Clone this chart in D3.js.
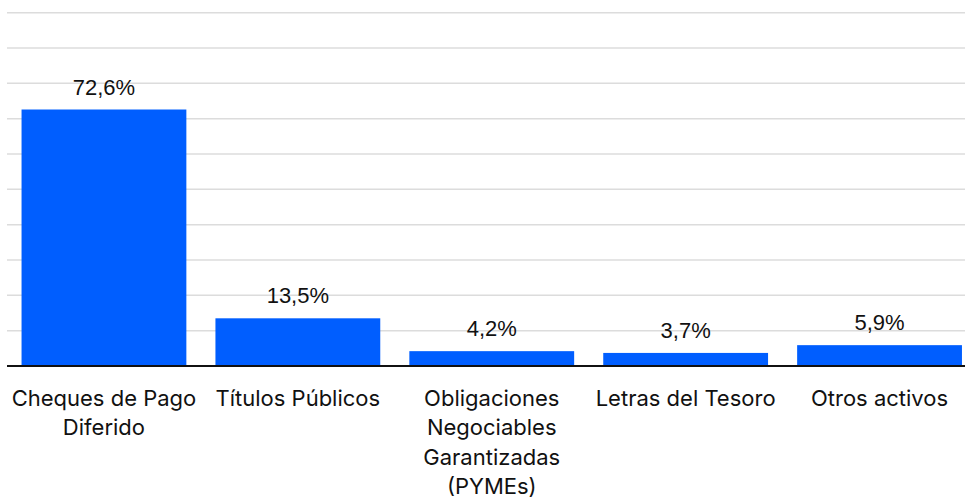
<!DOCTYPE html>
<html>
<head>
<meta charset="utf-8">
<script src="https://cdn.jsdelivr.net/npm/d3@7"></script>
<style>
  html, body { margin: 0; padding: 0; background: #fff; }
  svg { display: block; }
</style>
</head>
<body>
<svg id="chart" width="965" height="498"></svg>
<script>
const categories = [
  "Cheques de Pago Diferido",
  "Títulos Públicos",
  "Obligaciones Negociables Garantizadas (PYMEs)",
  "Letras del Tesoro",
  "Otros activos"
];
const values = [72.6, 13.5, 4.2, 3.7, 5.9];
const valueLabels = ["72,6%", "13,5%", "4,2%", "3,7%", "5,9%"];
const yTicks = [10, 20, 30, 40, 50, 60, 70, 80, 90, 100];

const svg = d3.select("#chart");
const mLeft = 7, mRight = 976.5, mTop = 12.7, mBottom = 366;

const x = d3.scaleBand().domain(categories).range([mLeft, mRight])
  .paddingInner(0.15).paddingOuter(0.075);
const y = d3.scaleLinear().domain([0, 100]).range([mBottom, mTop]);

// gridlines
svg.append("g").selectAll("line").data(yTicks).join("line")
  .attr("x1", mLeft).attr("x2", mRight)
  .attr("y1", d => y(d)).attr("y2", d => y(d))
  .attr("stroke", "#dcdcdc").attr("stroke-width", 1.5);

// bars
svg.append("g").selectAll("rect").data(categories).join("rect")
  .attr("x", d => x(d))
  .attr("width", x.bandwidth())
  .attr("y", (d, i) => y(values[i]))
  .attr("height", (d, i) => y(0) - y(values[i]))
  .attr("fill", "#005eff");

// value labels
svg.append("g").selectAll("text").data(categories).join("text")
  .attr("x", d => x(d) + x.bandwidth() / 2)
  .attr("y", (d, i) => y(values[i]) - 15)
  .attr("text-anchor", "middle")
  .attr("font-family", "'Liberation Sans', Arial, sans-serif")
  .attr("font-size", 22)
  .attr("fill", "#111")
  .text((d, i) => valueLabels[i]);

// x axis
const xAxis = d3.axisBottom(x).tickSize(0).tickPadding(0);
const gx = svg.append("g").attr("transform", `translate(0,${mBottom})`).call(xAxis);
gx.select(".domain").attr("stroke", "#111").attr("stroke-width", 2)
  .attr("d", `M${mLeft},0H${mRight}`);
gx.selectAll(".tick text")
  .attr("font-family", "Inter, sans-serif")
  .attr("font-size", 22)
  .attr("fill", "#111")
  .attr("dy", null)
  .attr("y", 40)
  .each(function(d) {
    const t = d3.select(this);
    const words = d.split(/\s+/);
    const maxW = x.step();
    t.text(null);
    let line = [];
    let lines = [];
    const probe = t.append("tspan");
    words.forEach(w => {
      const test = line.concat([w]).join(" ");
      probe.text(test);
      if (probe.node().getComputedTextLength() > maxW && line.length) {
        lines.push(line.join(" "));
        line = [w];
      } else {
        line.push(w);
      }
    });
    lines.push(line.join(" "));
    probe.remove();
    lines.forEach((l, i) => {
      t.append("tspan").attr("x", 0).attr("dy", i === 0 ? 0 : 29.3).text(l);
    });
  });
</script>
</body>
</html>
